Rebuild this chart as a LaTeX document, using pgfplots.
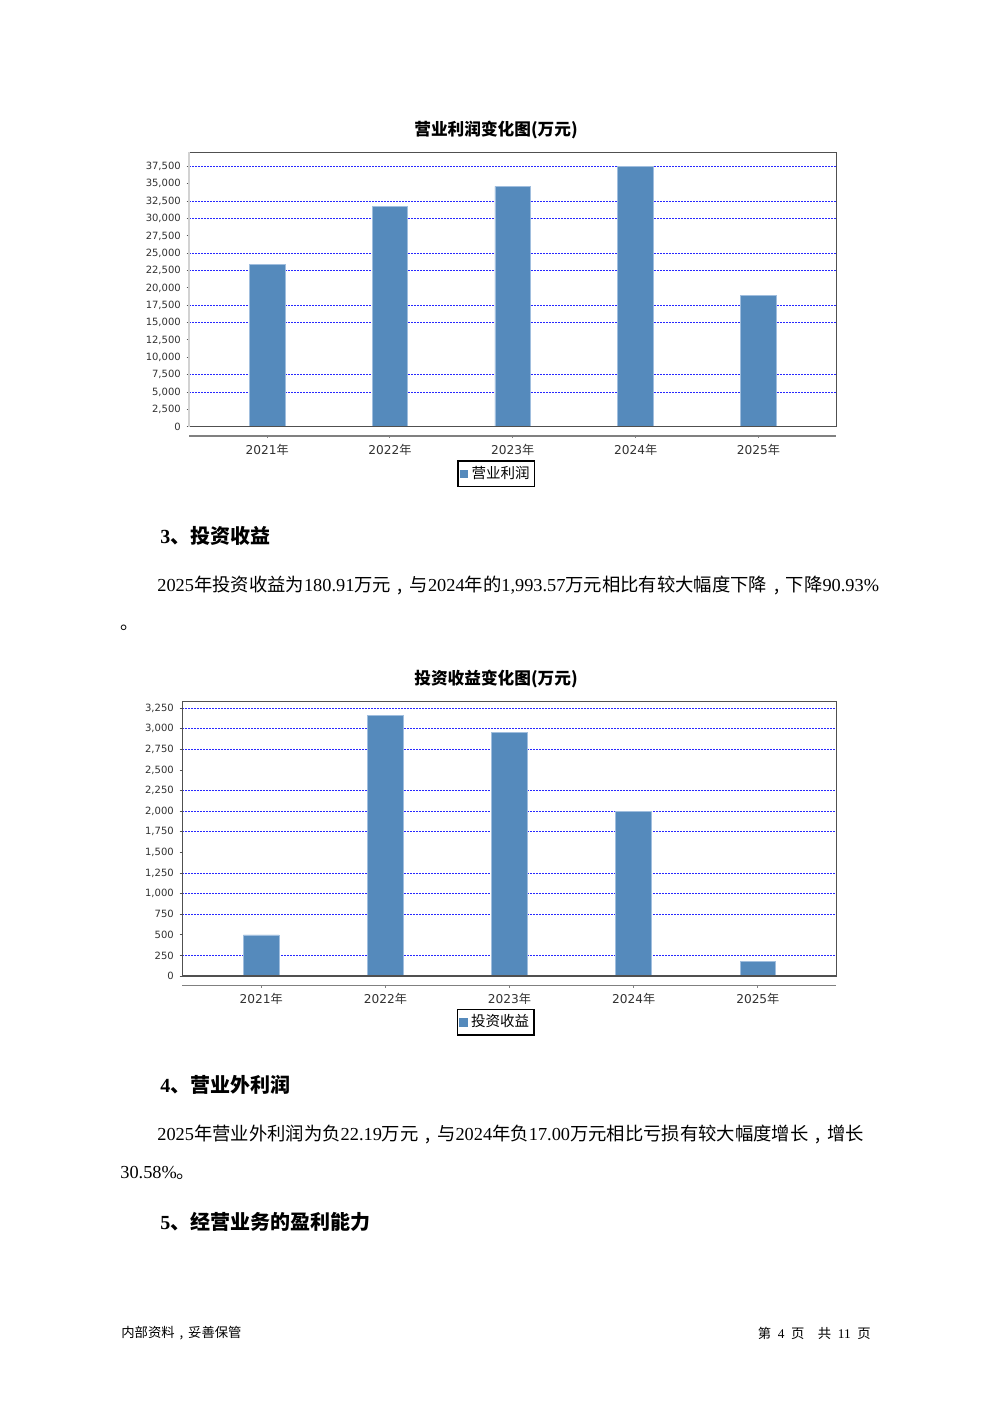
\documentclass[border=0pt]{standalone}
\usepackage{pgfplots}
\pgfplotsset{compat=1.18}
\usepackage{fontspec}
\setmainfont{Liberation Serif}
\newfontfamily\zhf{Noto Sans CJK SC}
\newfontfamily\dv{DejaVu Sans}
\newcommand\zh[1]{{\zhf #1}}
\newcommand\fs[1]{\fontsize{#1}{#1}\selectfont}
\newcommand\cm{{\zhf\hspace{0.37em},\hspace{0.37em}}}
\definecolor{barblue}{RGB}{85,138,188}
\definecolor{baredge}{RGB}{160,190,222}
\definecolor{gridblue}{RGB}{40,40,255}
\definecolor{framec}{RGB}{80,80,80}
\definecolor{ticklab}{RGB}{50,50,50}
\pgfplotsset{
  mychart/.style={
    scale only axis, clip=false,
    ybar, bar width=21.4pt,
    axis line style={draw=none},
    xtick={0,1,2,3,4},
    major x tick style={draw=none},
    x tick label style={font=\dv\fs{7.3}, text=ticklab, yshift=-5.3pt},
    y tick label style={font=\dv\fs{6}, text=ticklab, /pgf/number format/1000 sep={,}, /pgf/number format/assume math mode=true},
    scaled y ticks=false,
    ytick pos=left,
    tick align=outside, major tick length=1.6pt,
    y tick style={draw=framec, line width=0.6pt},
    extra y tick labels={},
    extra y tick style={grid=major, major tick length=0pt,
      major grid style={gridblue, line width=0.6pt, dash pattern=on 1.2pt off 0.6pt}},
    legend style={anchor=center, draw=black, line width=0.9pt,
      font=\zhf\fs{8.7}, inner xsep=1pt, inner ysep=1.2pt},
    legend image code/.code={\fill[barblue] (0pt,-2.3pt) rectangle (4.6pt,2.3pt);},
  }
}
\begin{document}
\begin{tikzpicture}
\path[use as bounding box, fill=white] (0,0) rectangle (595.2pt,-841.8pt);

% ---------------- chart 1 ----------------
\begin{axis}[mychart,
  at={(189.3*0.6pt,-426.7*0.6pt)}, anchor=south west,
  width=388.2pt, height=164.6pt,
  xmin=-0.634, xmax=4.634, ymin=0, ymax=39533,
  xticklabels={2021\zh{年},2022\zh{年},2023\zh{年},2024\zh{年},2025\zh{年}},
  ytick={0,2500,...,37500},
  extra y ticks={5000,7500,15000,17500,22500,25000,30000,32500,37500},
  legend style={at={(0.4745,-0.172)}},
]
\addplot[fill=barblue, draw=baredge, line width=0.5pt] coordinates {(0,23440) (1,31700) (2,34630) (3,37550) (4,18970)};
\addlegendentry{营业利润}
\draw[framec, line width=0.7pt] (rel axis cs:0,1) -- (rel axis cs:1,1) -- (rel axis cs:1,0) -- (rel axis cs:0,0);
\draw[gray!35, line width=1.3pt] (rel axis cs:0,0) -- (rel axis cs:0,1);
\draw[gray, line width=0.7pt] ([yshift=-5.6pt]rel axis cs:0,0) -- ([yshift=-5.6pt]rel axis cs:1,0);
\pgfplotsinvokeforeach{0,1,2,3,4}{\draw[gray, line width=0.6pt] ([yshift=-5.6pt]axis cs:#1,0) -- ++(0pt,-1.4pt);}
\end{axis}

% ---------------- chart 2 ----------------
\begin{axis}[mychart,
  at={(182.3*0.6pt,-976*0.6pt)}, anchor=south west,
  width=392.4pt, height=164.6pt,
  xmin=-0.636, xmax=4.632, ymin=0, ymax=3329,
  xticklabels={2021\zh{年},2022\zh{年},2023\zh{年},2024\zh{年},2025\zh{年}},
  ytick={0,250,...,3250},
  extra y ticks={250,750,1000,1250,1750,2000,2250,2750,3000,3250},
  legend style={at={(0.4795,-0.168)}},
]
\addplot[fill=barblue, draw=baredge, line width=0.5pt] coordinates {(0,498) (1,3167) (2,2957) (3,1993.57) (4,180.91)};
\addlegendentry{投资收益}
\draw[framec, line width=0.7pt] (rel axis cs:0,0) -- (rel axis cs:0,1) -- (rel axis cs:1,1) -- (rel axis cs:1,0) -- cycle;
\draw[gray, line width=0.7pt] ([yshift=-5.6pt]rel axis cs:0,0) -- ([yshift=-5.6pt]rel axis cs:1,0);
\pgfplotsinvokeforeach{0,1,2,3,4}{\draw[gray, line width=0.6pt] ([yshift=-5.6pt]axis cs:#1,0) -- ++(0pt,-1.4pt);}
\end{axis}

% ---------------- text ----------------
\begin{scope}[x=0.6pt,y=-0.6pt]
\node[anchor=center, inner sep=0, font=\zhf\bfseries\fs{10}] at (496,130) {营业利润变化图(万元)};
\node[anchor=center, inner sep=0, font=\zhf\bfseries\fs{10}] at (496,679) {投资收益变化图(万元)};

\node[anchor=west, inner sep=0, font=\bfseries\fs{12}] at (160,536) {3\zh{、投资收益}};
\node[anchor=west, inner sep=0, font=\fs{11}] at (157,585) {2025\zh{年投资收益为}180.91\zh{万元}\cm\zh{与}2024\zh{年的}1,993.57\zh{万元相比有较大幅度下降}\cm\zh{下降}90.93\%};
\node[anchor=base west, inner sep=0, font=\fs{11}] at (120,629) {\zh{。}};

\node[anchor=west, inner sep=0, font=\bfseries\fs{12}] at (160,1085) {4\zh{、营业外利润}};
\node[anchor=west, inner sep=0, font=\fs{11}] at (157,1134) {2025\zh{年营业外利润为负}22.19\zh{万元}\cm\zh{与}2024\zh{年负}17.00\zh{万元相比亏损有较大幅度增长}\cm\zh{增长}};
\node[anchor=west, inner sep=0, font=\fs{11}] at (120,1173) {30.58\%\zh{。}};
\node[anchor=west, inner sep=0, font=\bfseries\fs{12}] at (160,1222) {5\zh{、经营业务的盈利能力}};

\node[anchor=west, inner sep=0, font=\zhf\fs{8}] at (121,1333) {内部资料\cm 妥善保管};
\node[anchor=east, inner sep=0, font=\fs{8}] at (871,1333) {\zh{第}\enspace 4\enspace\zh{页}\quad\zh{共}\enspace 11\enspace\zh{页}};
\end{scope}
\end{tikzpicture}
\end{document}
